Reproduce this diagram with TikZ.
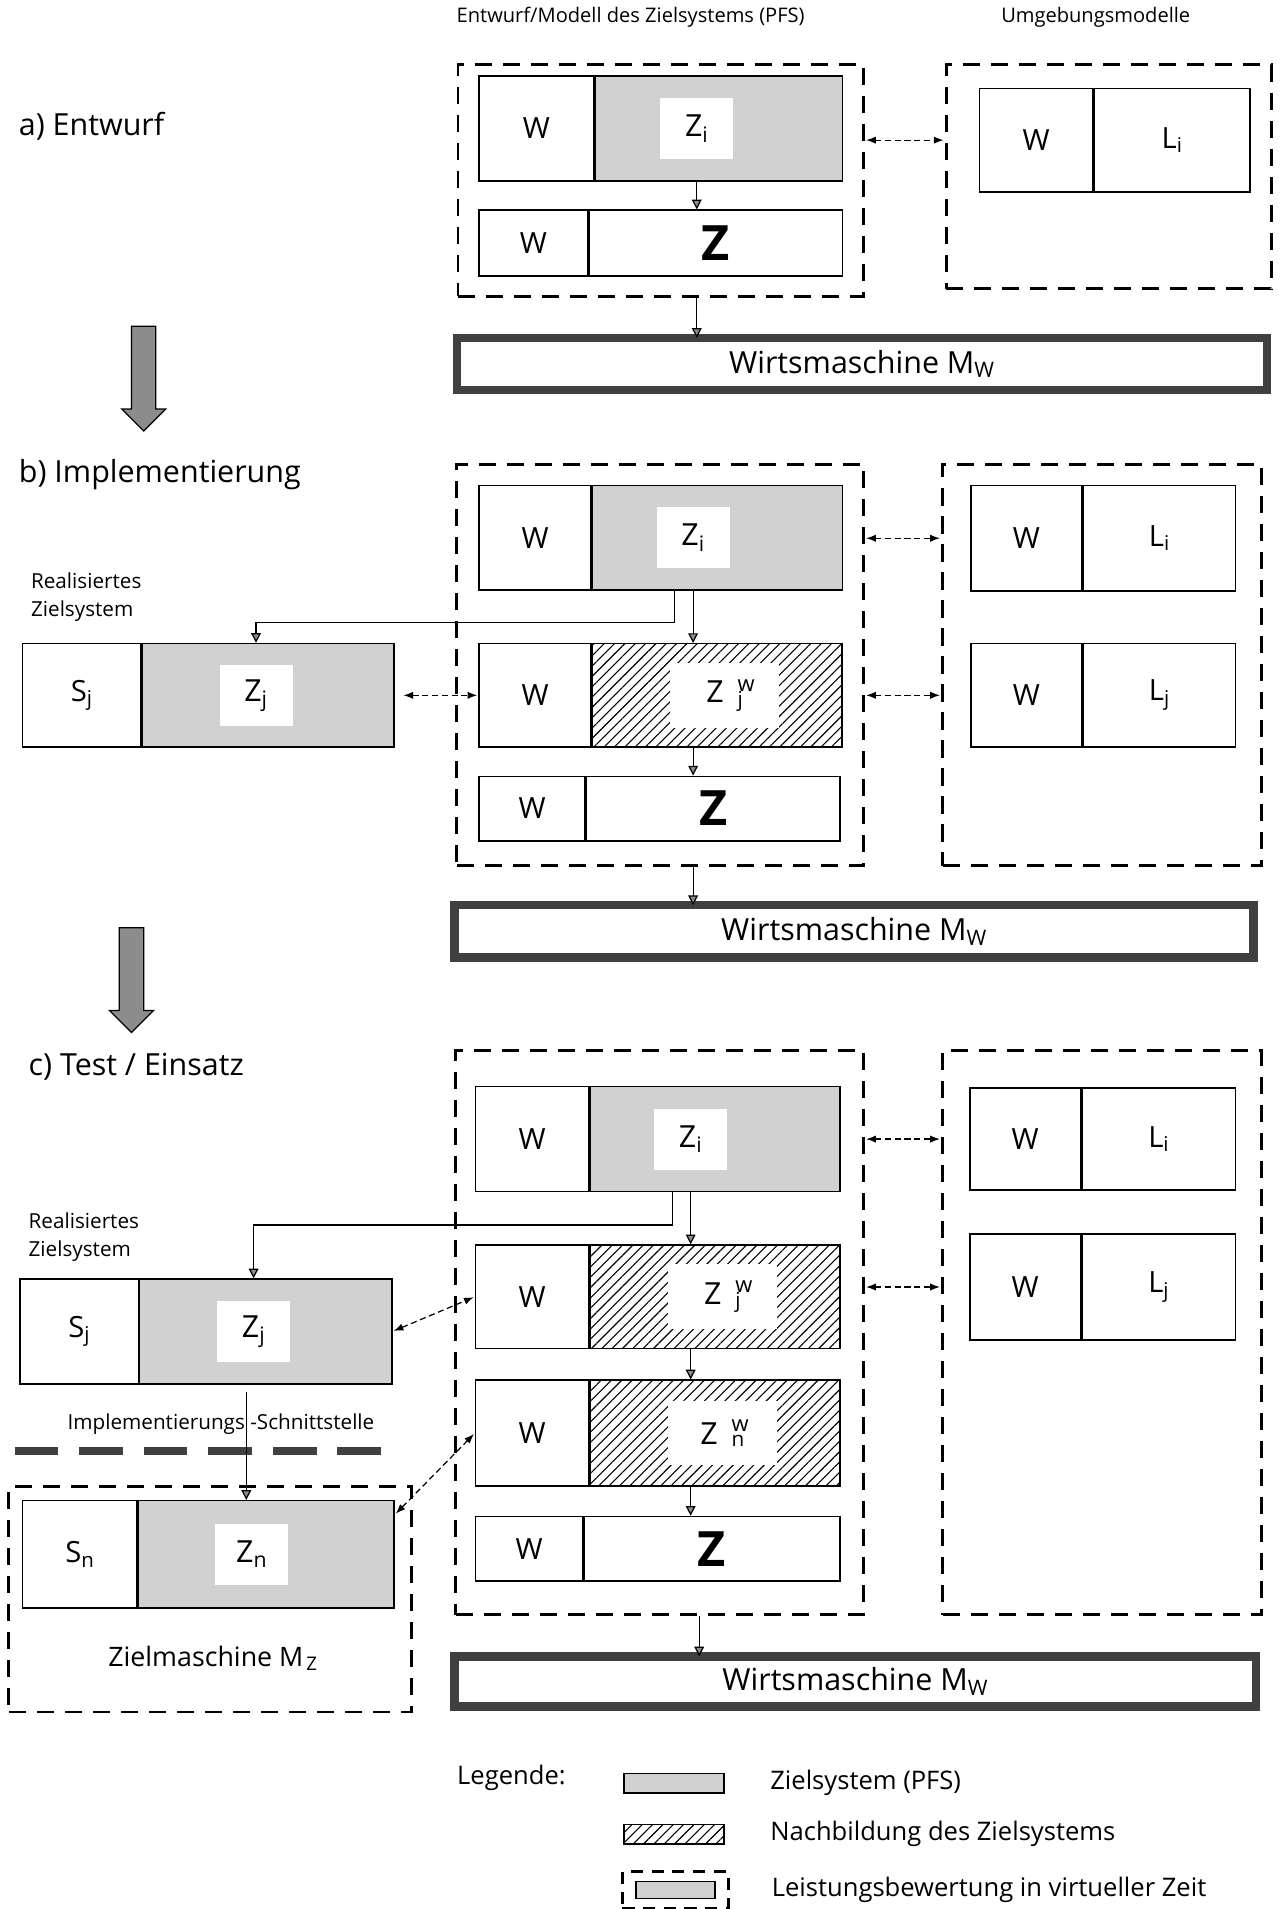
\documentclass[tikz,border=0pt]{standalone}
\usepackage{fontspec}
\setmainfont{Open Sans}
\usetikzlibrary{arrows.meta,positioning,patterns.meta}

\begin{document}
\begin{tikzpicture}[x=1pt, y=-1pt,
        cell/.style={draw, line width=1.2pt, inner sep=0pt, font=\fontsize{24}{28}\selectfont},
        wcell/.style={cell, anchor=north west, fill=white},
        zcell/.style={cell, fill=black!18},
        hcell/.style={cell, pattern={Lines[angle=45,distance=6pt,line width=0.9pt]}},
        patch/.style={fill=white, inner sep=0pt, font=\fontsize{25}{28}\selectfont},
        bigz/.style={cell, font=\fontsize{40}{44}\selectfont\bfseries},
        frame/.style={draw, line width=2.4pt, dash pattern=on 14pt off 9pt, anchor=north west, inner sep=0pt},
        wirts/.style={draw=black!75, line width=7pt, fill=white, minimum height=43pt, font=\fontsize{25}{30}\selectfont},
        flow/.style={line width=1pt, -{Triangle[length=8pt,width=8pt,fill=black!45]}},
        link/.style={line width=1pt, dash pattern=on 5pt off 3pt, {Latex[length=8pt,width=6pt]}-{Latex[length=8pt,width=6pt]}, shorten <=1pt, shorten >=1pt},
        ttl/.style={font=\fontsize{16.5}{18}\selectfont},
        hdg/.style={anchor=west, font=\fontsize{25}{28}\selectfont},
        note/.style={anchor=west, font=\fontsize{17}{20}\selectfont},
        legtxt/.style={anchor=west, font=\fontsize{21}{24}\selectfont}
    ]
    \useasboundingbox (0,0) rectangle (1051,1568);

    % column titles
    \node[ttl] (ttlPFS) at (518,14) {Entwurf/Modell des Zielsystems (PFS)};
    \node[ttl] (ttlEnv) at (900,14) {Umgebungsmodelle};

    % a) Entwurf
    \node[hdg] (hdA) at (12,104) {a) Entwurf};
    \node[frame, minimum width=333pt, minimum height=190pt] (pfsA) at (375,52) {};
    \node[frame, minimum width=267pt, minimum height=184pt] (envA) at (776,52) {};
    \node[wcell, minimum width=94pt, minimum height=86pt] (wA1) at (393,62) {W};
    \node[zcell, minimum width=203pt, minimum height=86pt, right=0pt of wA1] (zA1) {};
    \node[patch, minimum width=60pt, minimum height=50pt] (lblZiA) at ([xshift=-18pt]zA1.center) {Z\textsubscript{i}};
    \node[wcell, minimum width=89pt, minimum height=54pt] (wA2) at (393,172) {W};
    \node[bigz, minimum width=208pt, minimum height=54pt, right=0pt of wA2] (zA2) {Z};
    \node[wcell, minimum width=93pt, minimum height=85pt] (wlA1) at (804,72) {W};
    \node[cell, minimum width=128pt, minimum height=85pt, right=0pt of wlA1] (lA1) {L\textsubscript{i}};
    \node[wirts, minimum width=665pt] (mwA) at (708,299) {Wirtsmaschine M\textsubscript{W}};

    \draw[flow] (lblZiA |- zA1.south) -- (lblZiA |- zA2.north);
    \draw[flow] (lblZiA |- pfsA.south) -- ([yshift=-3.5pt]lblZiA |- mwA.north);
    \draw[link] (pfsA.east |- lA1) -- (envA.west |- lA1);

    % transition arrows
    \foreach \bx/\by in {118/268, 108/762}
        \draw[line width=1pt, fill=black!45]
            (\bx-10,\by) -- (\bx+10,\by) -- (\bx+10,\by+68) -- (\bx+18,\by+68)
            -- (\bx,\by+86) -- (\bx-18,\by+68) -- (\bx-10,\by+68) -- cycle;

    % b) Implementierung
    \node[hdg] (hdB) at (12,390) {b) Implementierung};
    \node[note] (realB1) at (22,477) {Realisiertes};
    \node[note] (realB2) at (22,502) {Zielsystem};
    \node[frame, minimum width=334pt, minimum height=330pt] (pfsB) at (374,380) {};
    \node[frame, minimum width=262pt, minimum height=330pt] (envB) at (773,380) {};
    \node[wcell, minimum width=92pt, minimum height=86pt] (wB1) at (393,398) {W};
    \node[zcell, minimum width=205pt, minimum height=86pt, right=0pt of wB1] (zB1) {};
    \node[patch, minimum width=60pt, minimum height=50pt] (lblZiB) at ([xshift=-20pt]zB1.center) {Z\textsubscript{i}};
    \node[wcell, minimum width=92pt, minimum height=85pt] (wB2) at (393,528) {W};
    \node[hcell, minimum width=205pt, minimum height=85pt, right=0pt of wB2] (zB2) {};
    \node[patch, minimum width=90pt, minimum height=53pt] (lblZjwB) at ([xshift=6pt]zB2.center)
        {Z\hspace{0.45em}\rlap{\raisebox{9.5pt}{\fontsize{18}{18}\selectfont w}}\raisebox{-3pt}{\fontsize{17}{17}\selectfont j}\hspace{0.5em}};
    \node[wcell, minimum width=87pt, minimum height=53pt] (wB3) at (393,637) {W};
    \node[bigz, minimum width=208pt, minimum height=53pt, right=0pt of wB3] (zB3) {Z};
    \node[wcell, minimum width=97pt, minimum height=85pt] (sjB) at (18,528) {S\textsubscript{j}};
    \node[zcell, minimum width=207pt, minimum height=85pt, right=0pt of sjB] (zjB) {};
    \node[patch, minimum width=60pt, minimum height=50pt] (lblZjB) at ([xshift=-10pt]zjB.center) {Z\textsubscript{j}};
    \node[wcell, minimum width=91pt, minimum height=87pt] (wlB1) at (797,398) {W};
    \node[cell, minimum width=125pt, minimum height=87pt, right=0pt of wlB1] (lB1) {L\textsubscript{i}};
    \node[wcell, minimum width=91pt, minimum height=85pt] (wlB2) at (797,528) {W};
    \node[cell, minimum width=125pt, minimum height=85pt, right=0pt of wlB2] (lB2) {L\textsubscript{j}};
    \node[wirts, minimum width=656pt] (mwB) at (701.5,765) {Wirtsmaschine M\textsubscript{W}};

    \draw[flow] ([xshift=-35pt]zB1.south) -- ++(0,26) -| (lblZjB |- zjB.north);
    \draw[flow] (lblZiB |- zB1.south) -- (lblZiB |- zB2.north);
    \draw[flow] (lblZiB |- zB2.south) -- (lblZiB |- zB3.north);
    \draw[flow] (lblZiB |- pfsB.south) -- ([yshift=-3.5pt]lblZiB |- mwB.north);
    \draw[link, shorten <=7pt] (zjB.east) -- (wB2.west);
    \draw[link] (pfsB.east |- lB1) -- (envB.west |- lB1);
    \draw[link] (pfsB.east |- lB2) -- (envB.west |- lB2);

    % c) Test / Einsatz
    \node[hdg] (hdC) at (20,876) {c) Test / Einsatz};
    \node[note] (realC1) at (20,1003) {Realisiertes};
    \node[note] (realC2) at (20,1028) {Zielsystem};
    \node[frame, minimum width=335pt, minimum height=463pt] (pfsC) at (373,862) {};
    \node[frame, minimum width=262pt, minimum height=463pt] (envC) at (773,862) {};
    \node[wcell, minimum width=93pt, minimum height=86pt] (wC1) at (390,892) {W};
    \node[zcell, minimum width=205pt, minimum height=86pt, right=0pt of wC1] (zC1) {};
    \node[patch, minimum width=60pt, minimum height=50pt] (lblZiC) at ([xshift=-20pt]zC1.center) {Z\textsubscript{i}};
    \node[wcell, minimum width=93pt, minimum height=85pt] (wC2) at (390,1022) {W};
    \node[hcell, minimum width=205pt, minimum height=85pt, right=0pt of wC2] (zC2) {};
    \node[patch, minimum width=90pt, minimum height=53pt] (lblZjwC) at ([xshift=6pt]zC2.center)
        {Z\hspace{0.45em}\rlap{\raisebox{9.5pt}{\fontsize{18}{18}\selectfont w}}\raisebox{-3pt}{\fontsize{17}{17}\selectfont j}\hspace{0.5em}};
    \node[wcell, minimum width=93pt, minimum height=87pt] (wC3) at (390,1133) {W};
    \node[hcell, minimum width=205pt, minimum height=87pt, right=0pt of wC3] (zC3) {};
    \node[patch, minimum width=90pt, minimum height=53pt] (lblZnwC) at ([xshift=6pt]zC3.center)
        {Z\hspace{0.45em}\rlap{\raisebox{10.5pt}{\fontsize{18}{18}\selectfont w}}\raisebox{-2pt}{\fontsize{17}{17}\selectfont n}\hspace{0.2em}};
    \node[wcell, minimum width=88pt, minimum height=53pt] (wC4) at (390,1245) {W};
    \node[bigz, minimum width=210pt, minimum height=53pt, right=0pt of wC4] (zC4) {Z};
    \node[wcell, minimum width=97pt, minimum height=86pt] (sjC) at (16,1050) {S\textsubscript{j}};
    \node[zcell, minimum width=207pt, minimum height=86pt, right=0pt of sjC] (zjC) {};
    \node[patch, minimum width=60pt, minimum height=50pt] (lblZjC) at ([xshift=-10pt]zjC.center) {Z\textsubscript{j}};
    \node[note] (cutTxt) at (52,1170) {Implementierungs -Schnittstelle};
    \draw[line width=6.5pt, black!75, dash pattern=on 36pt off 17pt] (12,1192) -- (316,1192);
    \node[frame, minimum width=331pt, minimum height=185pt] (zmC) at (6,1220) {};
    \node[wcell, minimum width=94pt, minimum height=88pt] (snC) at (18,1232) {S\textsubscript{n}};
    \node[zcell, minimum width=210pt, minimum height=88pt, right=0pt of snC] (znC) {};
    \node[patch, minimum width=60pt, minimum height=50pt] (lblZnC) at ([xshift=-12pt]znC.center) {Z\textsubscript{n}};
    \node[font=\fontsize{22}{26}\selectfont] (zmTxt) at (175,1362) {Zielmaschine M\textsubscript{\,Z}};
    \node[wcell, minimum width=91pt, minimum height=84pt] (wlC1) at (796,893) {W};
    \node[cell, minimum width=126pt, minimum height=84pt, right=0pt of wlC1] (lC1) {L\textsubscript{i}};
    \node[wcell, minimum width=91pt, minimum height=87pt] (wlC2) at (796,1013) {W};
    \node[cell, minimum width=126pt, minimum height=87pt, right=0pt of wlC2] (lC2) {L\textsubscript{j}};
    \node[wirts, minimum width=658pt, minimum height=41pt] (mwC) at (702.5,1381) {Wirtsmaschine M\textsubscript{W}};

    \draw[flow] ([xshift=-35pt]zC1.south) -- ++(0,27) -| (lblZjC |- zjC.north);
    \draw[flow] (lblZiC |- zC1.south) -- (lblZiC |- zC2.north);
    \draw[flow] (lblZiC |- zC2.south) -- (lblZiC |- zC3.north);
    \draw[flow] (lblZiC |- zC3.south) -- (lblZiC |- zC4.north);
    \draw[flow] ([xshift=7pt]lblZiC |- pfsC.south) -- ([xshift=7pt,yshift=-3.5pt]lblZiC |- mwC.north);
    \draw[flow, shorten <=6pt] ([xshift=-6pt]lblZjC |- zjC.south) -- ([xshift=-6pt]lblZjC |- znC.north);
    \draw[link] (zjC.east) -- (wC2.west);
    \draw[link] ([yshift=-12pt]znC.north east) -- (wC3.west);
    \draw[link] (pfsC.east |- lC1) -- (envC.west |- lC1);
    \draw[link] (pfsC.east |- lC2) -- (envC.west |- lC2);

    % Legende
    \node[legtxt] (legHd) at (372,1460) {Legende:};
    \node[zcell, anchor=north west, minimum width=82pt, minimum height=16pt] (legZ) at (512,1456) {};
    \node[legtxt, right=34pt of legZ] (legZt) {Zielsystem (PFS)};
    \node[hcell, anchor=north west, minimum width=82pt, minimum height=16pt] (legH) at (512,1498) {};
    \node[legtxt, right=34pt of legH] (legHt) {Nachbildung des Zielsystems};
    \node[frame, minimum width=87pt, minimum height=30pt, dash pattern=on 10pt off 7pt] (legF) at (510,1536) {};
    \node[zcell, minimum width=65pt, minimum height=14pt] (legFz) at (legF.center) {};
    \node[legtxt, right=31pt of legF] (legFt) {Leistungsbewertung in virtueller Zeit};
\end{tikzpicture}
\end{document}
